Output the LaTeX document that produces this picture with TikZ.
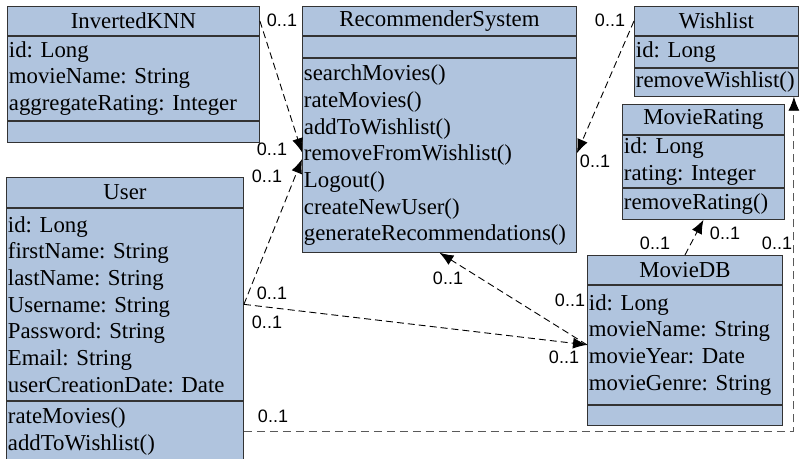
\documentclass[tikz,border=0pt]{standalone}
\usepackage{fontspec}
\setmainfont{Liberation Serif}
\newfontfamily\multfont{Liberation Sans}
\usepackage{tikz}
\usetikzlibrary{positioning}
\usetikzlibrary{arrows.meta}
\usepackage{xcolor}
\definecolor{classblue}{HTML}{B0C4DE}
\frenchspacing

\begin{document}
\begin{tikzpicture} [
		x=1pt, y=1pt,
		head/.style     = { rectangle, draw=black!80, fill=classblue, line width=0.9pt,
			text width=#1, align=center, inner xsep=1.5pt, inner ysep=0pt,
			font=\fontsize{22.8}{26.7}\selectfont },
		body/.style     = { rectangle, draw=black!80, fill=classblue, line width=0.9pt,
			text width=#1, align=left, inner xsep=1.5pt, inner ysep=0pt,
			font=\fontsize{22.8}{26.7}\selectfont },
		mult/.style     = { inner sep=0pt, font=\multfont\fontsize{18}{18}\selectfont },
		line/.style     = { draw, line width=0.9pt, dash pattern=on 7pt off 4pt,
			-{Latex[length=14pt,width=11pt]} },
		]
		\useasboundingbox (0,0) rectangle (800,-458);
		% Define the classes, each one as three stacked parts
		\node [head=249pt, minimum height=29pt, anchor=north west] (knn) at (7,-6) {InvertedKNN};
		\node [body=249pt, minimum height=84pt, below=0pt of knn] (knn-a) {id: Long\\ movieName: String\\ aggregateRating: Integer};
		\node [body=249pt, minimum height=21pt, below=0pt of knn-a] (knn-m) {};
		
		\node [head=271pt, minimum height=29pt, anchor=north west] (rec) at (302,-6) {RecommenderSystem};
		\node [body=271pt, minimum height=21pt, below=0pt of rec] (rec-a) {};
		\node [body=271pt, minimum height=194pt, below=0pt of rec-a] (rec-m) {searchMovies()\\ rateMovies()\\ addToWishlist()\\ removeFromWishlist()\\ Logout()\\ createNewUser()\\ generateRecommendations()};
		
		\node [head=161pt, minimum height=29pt, anchor=north west] (wish) at (634,-6) {Wishlist};
		\node [body=161pt, minimum height=31pt, below=0pt of wish] (wish-a) {id: Long};
		\node [body=161pt, minimum height=28pt, below=0pt of wish-a] (wish-m) {removeWishlist()};
		
		\node [head=159pt, minimum height=30pt, anchor=north west] (rating) at (622,-104) {MovieRating};
		\node [body=159pt, minimum height=52pt, below=0pt of rating] (rating-a) {id: Long\\ rating: Integer};
		\node [body=159pt, minimum height=31pt, below=0pt of rating-a] (rating-m) {removeRating()};
		
		\node [head=234pt, minimum height=30pt, anchor=north west] (user) at (6,-177) {User};
		\node [body=234pt, minimum height=192pt, below=0pt of user] (user-a) {id: Long\\ firstName: String\\ lastName: String\\ Username: String\\ Password: String\\ Email: String\\ userCreationDate: Date};
		\node [body=234pt, minimum height=60pt, below=0pt of user-a] (user-m) {rateMovies()\\ addToWishlist()};
		
		\node [head=192pt, minimum height=29pt, anchor=north west] (mdb) at (587,-255) {MovieDB};
		\node [body=192pt, minimum height=119pt, below=0pt of mdb] (mdb-a) {id: Long\\ movieName: String\\ movieYear: Date\\ movieGenre: String};
		\node [body=192pt, minimum height=20pt, below=0pt of mdb-a] (mdb-m) {};
		
		% connect all nodes defined above
		\begin{scope} [every path/.style=line]
		\path (knn.east)    --    ([yshift=3pt] rec-m.west);
		\path (user-a.east) --    ([yshift=-4pt] rec-m.west);
		\path (user-a.east) --    (mdb-a.west);
		\path (mdb-a.west)  --    (rec-m.south);
		\path (wish.west)   --    ([yshift=2pt] rec-m.east);
		\path (mdb.north)   --    (rating-m.south);
		% the long link from User up to Wishlist
		\path[black!65, dash pattern=on 8pt off 5pt, -{Latex[length=14pt,width=11pt,black]}]
		(user-m.east) -| ([xshift=-5pt] wish-m.south east);
		\end{scope}
		
		% multiplicities
		\node [mult] (knn-m1)  at (282,-20)  {0..1};
		\node [mult] (knn-m2)  at (272,-149) {0..1};
		\node [mult] (user-m1) at (267,-176) {0..1};
		\node [mult] (user-m2) at (272,-293) {0..1};
		\node [mult] (user-m3) at (267,-322) {0..1};
		\node [mult] (mdb-m1)  at (564,-357) {0..1};
		\node [mult] (mdb-m2)  at (570,-300) {0..1};
		\node [mult] (rec-m1)  at (448,-278) {0..1};
		\node [mult] (wish-m1) at (610,-20)  {0..1};
		\node [mult] (rec-m2)  at (595,-161) {0..1};
		\node [mult] (mdb-m3)  at (655,-243) {0..1};
		\node [mult] (rating-m1) at (725,-233) {0..1};
		\node [mult] (wish-m2) at (777,-243) {0..1};
		\node [mult] (user-m4) at (273,-416) {0..1};
		\end{tikzpicture}
\end{document}
